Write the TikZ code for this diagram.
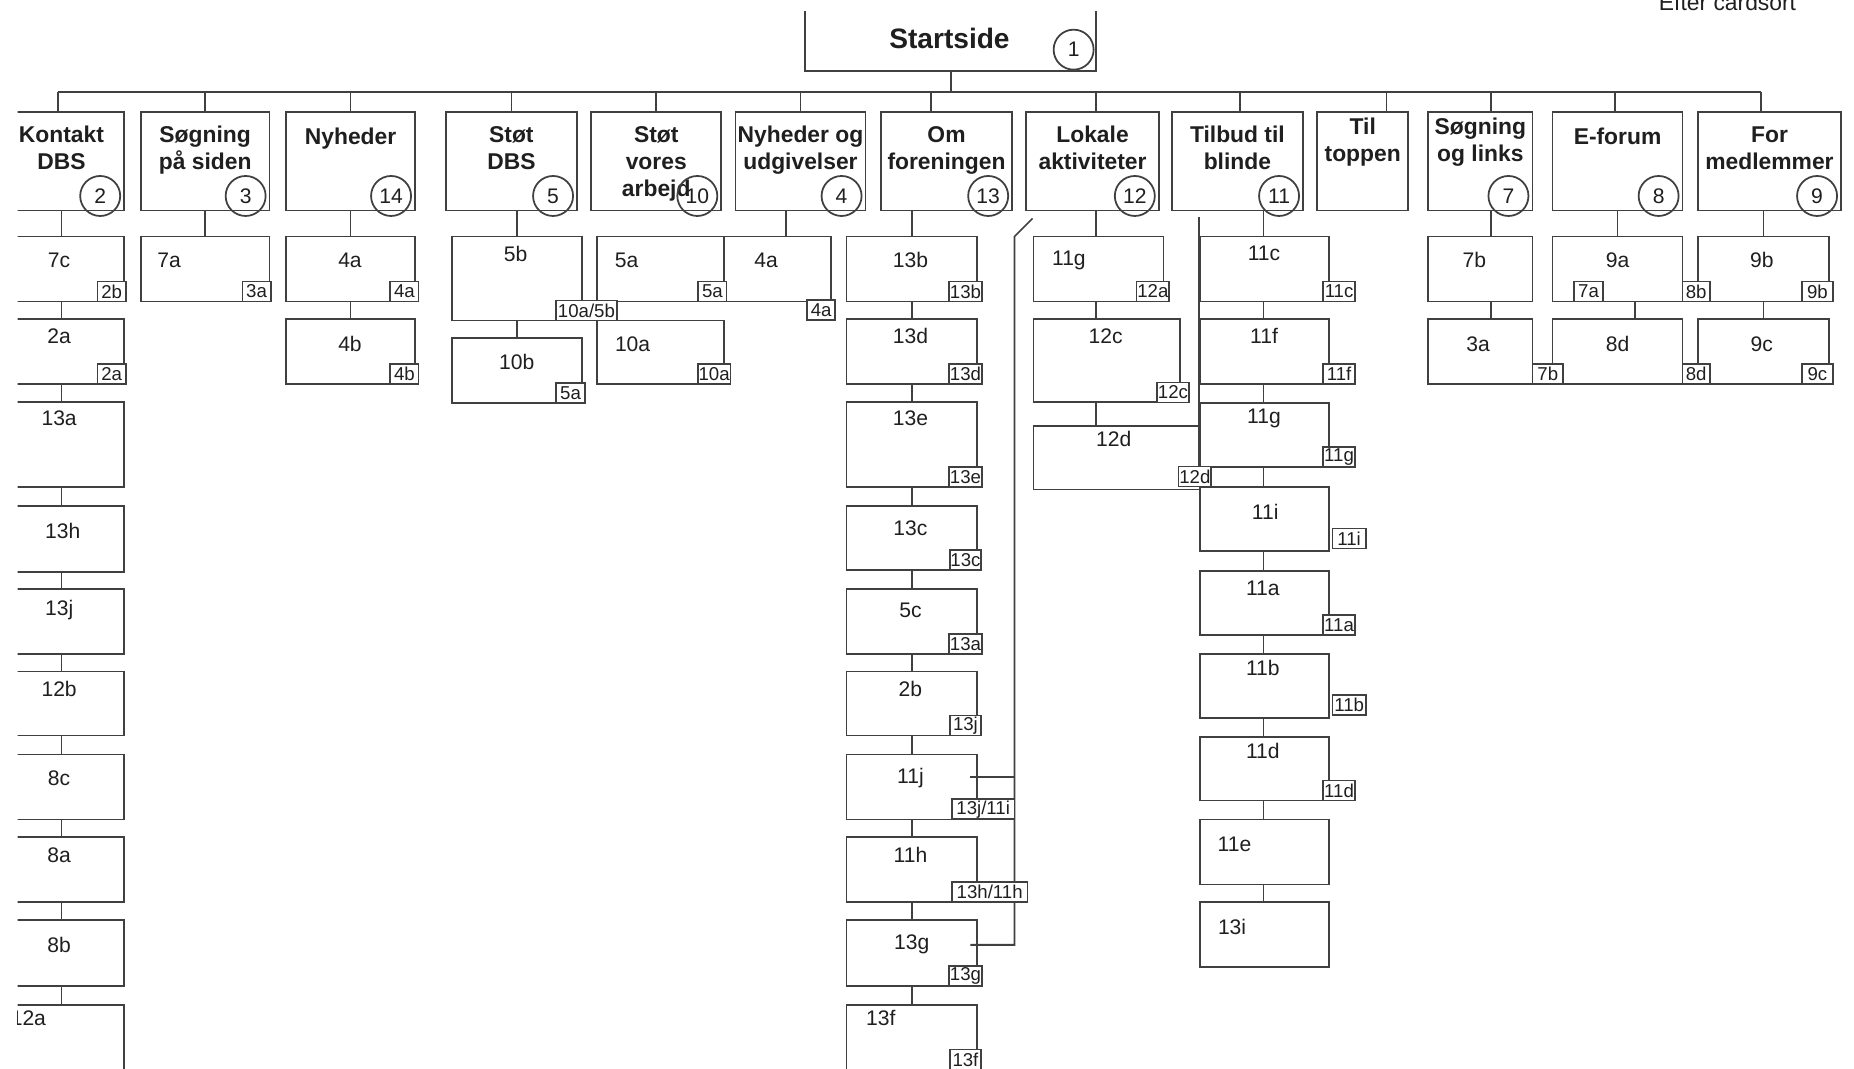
\documentclass[tikz,border=0pt]{standalone}
\usepackage{fontspec}
\setmainfont{Liberation Sans}
\usetikzlibrary{fit,calc}

\definecolor{linegray}{gray}{0.25}
\definecolor{textgray}{gray}{0.12}

\tikzset{
  line/.style={draw=linegray, line width=0.5pt},
  pagebox/.style={line, fill=white, inner sep=0pt},
  title/.style={font=\fontsize{6.5}{7.7}\selectfont\bfseries, text=textgray, align=center, inner sep=0pt, anchor=north},
  pagelabel/.style={font=\fontsize{6}{7}\selectfont, text=textgray, inner sep=0pt},
  tag/.style={line, fill=white, font=\fontsize{5.3}{5.5}\selectfont, text=textgray, inner xsep=0.2pt, inner ysep=0pt, minimum height=2mm},
  num/.style={line, circle, minimum size=4mm, inner sep=0pt, font=\fontsize{6}{6}\selectfont, text=textgray},
}

\begin{document}
\begin{tikzpicture}[x=0.01182cm, y=-0.01182cm]
\useasboundingbox (0,0) rectangle (1568,904);

% caption at the top edge, cut by the page
\node [pagelabel, font=\fontsize{6.5}{7}\selectfont, anchor=base] (caption) at (1461,9) {Efter cardsort};

\begin{scope}
\clip (15,10) rectangle (1568,904);

% start page
\node [pagebox, fit={(681,-20) (927,60)}] (start) {};
\node [title, font=\fontsize{8}{9}\selectfont\bfseries] (start-t) at (803,23) {Startside};
\node [num] (start-n) at (908,42) {1};
\coordinate (bus) at (0,78);

% main menu
\foreach \n/\xa/\xb/\ttl/\ty/\nr/\dx in {
    kontakt/-1/105/{Kontakt\\DBS}/107/2/-3,
    sogside/119/228/{Søgning\\på siden}/107/3/0,
    nyheder/242/351/Nyheder/108/14/0,
    stoetdbs/377/488/{Støt\\DBS}/107/5/0,
    stoetarb/500/610/{Støt\\vores\\arbejd}/107/10/0,
    nyhudg/622/732/{Nyheder og\\udgivelser}/107/4/0,
    om/745/856/{Om\\foreningen}/107/13/-13,
    lokale/868/980/{Lokale\\aktiviteter}/107/12/3,
    tilbud/991/1102/{Tilbud til\\blinde}/107/11/2,
    toppen/1114/1191/{Til\\toppen}/100//20,
    soglinks/1208/1296/{Søgning\\og links}/100/7/9,
    eforum/1313/1423/E-forum/108/8/-2,
    medlem/1436/1557/{For\\medlemmer}/107/9/-7}{
    \node [pagebox, fit={(\xa,95) (\xb,178)}] (\n) {};
    \node [title] (\n-t) at ($(\n.north)+(0,\ty-95)$) {\ttl};
    \ifx\nr\empty\else
        \node [num] (\n-n) at ($(\n.south east)+(-21,-13)$) {\nr};
    \fi
    \coordinate (\n-d) at ($(\n.north)+(\dx,0)$);
    \draw [line] (\n-d) -- (\n-d |- bus);
}
\draw [line] (kontakt-d |- bus) -- (medlem-d |- bus);
\draw [line] (start.south) -- (start.south |- bus);

% sub pages
\foreach \n/\xa/\ya/\xb/\yb/\ttl/\lx/\ly in {
    k7c/-1/200/105/255/7c/50/220,
    k2a/-1/270/105/325/2a/50/284,
    k13a/-1/340/105/412/13a/50/354,
    k13h/-1/428/105/484/13h/53/449,
    k13j/-1/498/105/553/13j/50/516,
    k12b/-1/568/105/622/12b/50/583,
    k8c/-1/638/105/693/8c/50/658,
    k8a/-1/708/105/763/8a/50/723,
    k8b/-1/778/105/834/8b/50/799,
    k12a/-1/850/105/920/12a/24/861,
    s7a/119/200/228/255/7a/143/220,
    n4a/242/200/351/255/4a/296/220,
    n4b/242/270/351/325/4b/296/291,
    d5b/382/200/492/271/5b/436/215,
    d10b/382/286/492/341/10b/437/306,
    v5a/505/200/612/255/5a/530/220,
    u4a/612/200/703/255/4a/648/220,
    v10a/505/271/612/325/10a/535/291,
    o13b/716/200/826/255/13b/770/220,
    o13d/716/270/826/325/13d/770/284,
    o13e/716/340/826/412/13e/770/354,
    o13c/716/428/826/482/13c/770/447,
    o5c/716/498/826/553/5c/770/516,
    o2b/716/568/826/622/2b/770/583,
    o11j/716/638/826/693/11j/770/658,
    o11h/716/708/826/763/11h/770/723,
    o13g/716/778/826/834/13g/771/799,
    o13f/716/850/826/920/13f/745/861,
    l11g/874/200/984/255/11g/904/220,
    l12c/874/270/998/340/12c/935/284,
    l12d/874/360/1016/414/12d/942/371,
    t11c/1015/200/1124/255/11c/1069/214,
    t11f/1015/270/1124/325/11f/1069/284,
    t11g/1015/341/1124/395/11g/1069/354,
    t11i/1015/412/1124/466/11i/1070/433,
    t11a/1015/483/1124/537/11a/1068/498,
    t11b/1015/553/1124/607/11b/1068/565,
    t11d/1015/623/1124/677/11d/1068/635,
    t11e/1015/693/1124/748/11e/1044/714,
    t13i/1015/763/1124/818/13i/1042/784,
    g7b/1208/200/1296/255/7b/1247/220,
    g3a/1208/270/1296/325/3a/1250/291,
    e9a/1313/200/1423/255/9a/1368/220,
    e8d/1313/270/1423/325/8d/1368/291,
    m9b/1436/200/1547/255/9b/1490/220,
    m9c/1436/270/1547/325/9c/1490/291}{
    \node [pagebox, fit={(\xa,\ya) (\xb,\yb)}] (\n) {};
    \node [pagelabel] (\n-l) at (\lx,\ly) {\ttl};
}

% links down the columns
\foreach \a/\b/\s in {
    kontakt/k7c/0, k7c/k2a/0, k2a/k13a/0, k13a/k13h/0, k13h/k13j/0,
    k13j/k12b/0, k12b/k8c/0, k8c/k8a/0, k8a/k8b/0, k8b/k12a/0,
    sogside/s7a/0, nyheder/n4a/0, n4a/n4b/0,
    stoetdbs/d5b/0, d5b/d10b/0, nyhudg/u4a/7,
    om/o13b/0, o13b/o13d/0, o13d/o13e/0, o13e/o13c/0, o13c/o5c/0,
    o5c/o2b/0, o2b/o11j/0, o11j/o11h/0, o11h/o13g/0, o13g/o13f/0,
    lokale/l11g/-2, l11g/l12c/-9, l12c/l12d/-18,
    tilbud/t11c/-1, t11c/t11f/-1, t11f/t11g/-1, t11g/t11i/-1, t11i/t11a/-1,
    t11a/t11b/-1, t11b/t11d/-1, t11d/t11e/-1, t11e/t13i/-1,
    soglinks/g7b/9, g7b/g3a/9,
    eforum/e9a/0, e9a/e8d/15,
    medlem/m9b/0, m9b/m9c/0}
    \draw [line] ($(\a.south -| \b.north)+(\s,0)$) -- ($(\b.north)+(\s,0)$);

% side line for Tilbud til blinde
\draw [line] ($(tilbud.south -| t11c.west)+(0,5)$) -- (t11i.north west);

% cross link from Lokale aktiviteter
\coordinate (omlink) at (858,200);
\coordinate (o11j-in) at ($(o11j.north east)!.35!(o11j.south east)+(-6,0)$);
\coordinate (o13g-in) at ($(o13g.north east)!.38!(o13g.south east)+(-6,0)$);
\draw [line] ($(lokale.south west)+(6,6)$) -- (omlink) -- (omlink |- o13g-in) -- (o13g-in);
\draw [line] (omlink |- o11j-in) -- (o11j-in);

% page tags
\foreach \n/\x/\y/\w/\ttl in {
    tk7c/94.5/246.5/24/2b, tk2a/94.5/316.5/24/2a,
    ts7a/217/246.5/24/3a,
    tn4a/342/246.5/24/4a, tn4b/342/316.5/24/4b,
    td5b/496/262.5/52/{10a/5b}, td10b/482.5/332.5/25/5a,
    tv5a/602.5/246.5/24/5a, tu4a/694.5/262/24/4a, tv10a/604/316.5/26/10a,
    to13b/816.5/246.5/26/13b, to13d/816.5/316.5/26/13d,
    to13e/816.5/403.5/26/13e, to13c/816.5/473.5/26/13c,
    to5c/816.5/544.5/26/13a, to2b/816.5/613.5/26/13j,
    to11j/831.5/684.5/53/{13j/11i}, to11h/837/754.5/64/{13h/11h},
    to13g/816.5/825.5/26/13g, to13f/816.5/896/26/13f,
    tl11g/975/246.5/24/12a, tl12c/992/332/26/12c, tl12d/1010.5/403/27/12d,
    tt11c/1132.5/246.5/27/11c, tt11f/1132.5/316.5/27/11f,
    tt11g/1132.5/386.5/27/11g, tt11i/1141/455.5/28/11i,
    tt11a/1132.5/528.5/27/11a, tt11b/1141/596.5/28/11b,
    tt11d/1132.5/668.5/27/11d,
    tg3a/1309/316.5/26/7b,
    te9a/1343.5/246.5/25/7a, te9b/1434.5/246.5/23/8b, te8d/1434.5/316.5/23/8d,
    tm9b/1537/246.5/26/9b, tm9c/1537/316.5/26/9c}
    \node [tag, minimum width=\w*0.1182mm] (\n) at (\x,\y) {\ttl};

\end{scope}

\end{tikzpicture}
\end{document}
